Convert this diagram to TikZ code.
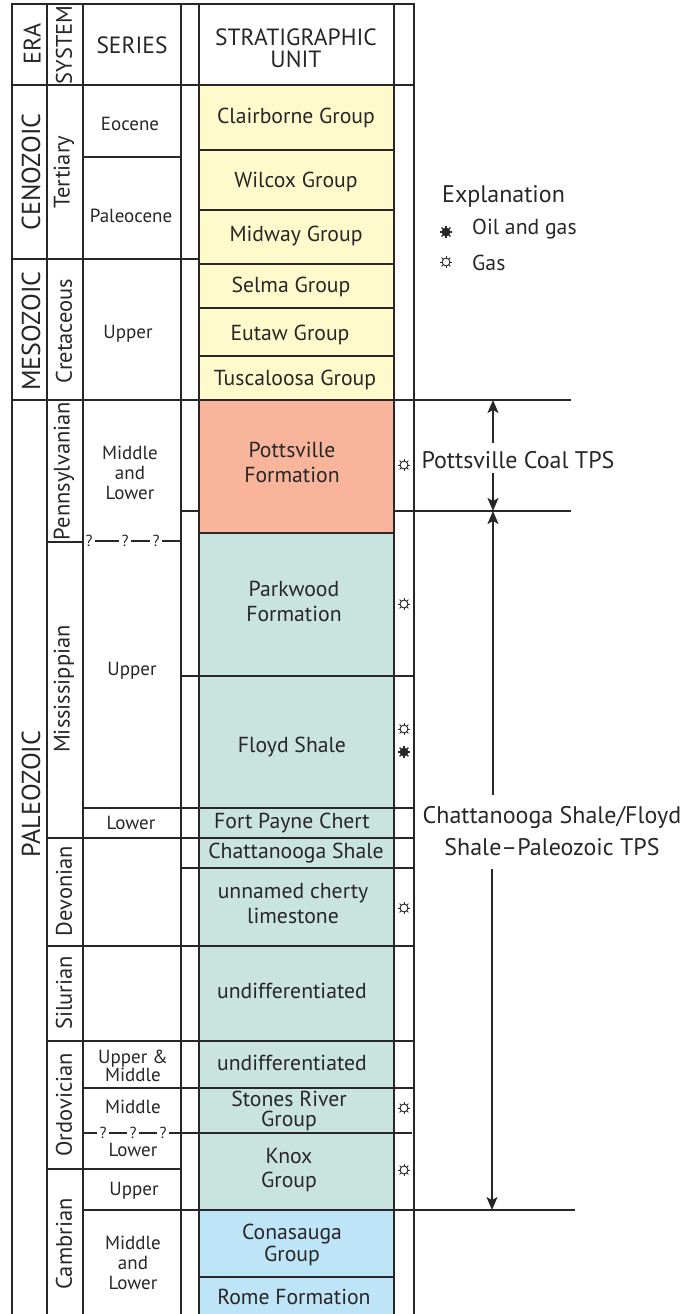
\documentclass[tikz,border=0pt]{standalone}
\usepackage{fontspec}
\setmainfont{PT Sans}
\usetikzlibrary{arrows.meta}

\definecolor{ink}{RGB}{40,38,38}
\definecolor{tertyellow}{RGB}{255,250,203}
\definecolor{pennsalmon}{RGB}{248,181,155}
\definecolor{paleoteal}{RGB}{201,227,223}
\definecolor{cambblue}{RGB}{190,229,247}

% gas and oil-and-gas marks
\newcommand{\gasmark}[1]{%
  \draw[ink, line width=0.9pt, fill=white] #1 circle (3.9);
  \foreach \a in {0,45,...,315} \draw[ink, line width=0.9pt] #1 ++(\a:3.9) -- ++(\a:2.3);
}
\newcommand{\oilmark}[1]{%
  \fill[ink] #1 circle (4.4);
  \foreach \a in {0,45,...,315} \draw[ink, line width=1.2pt] #1 ++(\a:3.7) -- ++(\a:2.5);
}

\begin{document}
\begin{tikzpicture}[x=1pt, y=-1pt,
    grid/.style={draw=ink, line width=1.2pt},
    frame/.style={draw=ink, line width=2pt},
    hdr/.style={font=\fontsize{23.5}{22}\selectfont, text=ink, align=center, inner sep=0pt},
    eraname/.style={rotate=90, font=\fontsize{26}{26}\selectfont, text=ink, inner sep=0pt},
    sysname/.style={rotate=90, font=\fontsize{22.5}{22}\selectfont, text=ink, inner sep=0pt},
    sername/.style={font=\fontsize{19}{20}\selectfont, text=ink, align=center, inner sep=0pt},
    unitname/.style={font=\fontsize{21.7}{25}\selectfont, text=ink, align=center, inner sep=0pt},
    qmark/.style={font=\fontsize{16}{16}\selectfont, text=ink, inner sep=2.5pt},
    tpsarrow/.style={draw=ink, line width=1.4pt, -{Stealth[length=13pt, width=11pt, inset=3pt]}},
    tpslabel/.style={font=\fontsize{24}{32}\selectfont, text=ink, align=center, inner sep=0pt}]
    \useasboundingbox (0,0) rectangle (684,1314);

    % Unit fills
    \fill[tertyellow] (199,85) rectangle (394,400);
    \fill[pennsalmon] (199,400) rectangle (394,533);
    \fill[paleoteal] (199,533) rectangle (394,1210);
    \fill[cambblue] (199,1210) rectangle (394,1314);

    % Column lines
    \foreach \x in {47,83,181,199,394} \draw[grid] (\x,4) -- (\x,1314);
    \draw[frame] (12,1314) -- (12,4) -- (414,4) -- (414,1314);

    % Row lines
    \draw[grid] (12,85) -- (414,85);
    \foreach \y in {150,210,264,308,356,533,1277} \draw[grid] (199,\y) -- (394,\y);
    \draw[grid] (83,157) -- (181,157);
    \draw[grid] (12,259) -- (199,259);
    \draw[grid] (12,400) -- (571,400);
    \draw[grid] (181,511) -- (199,511) (394,511) -- (571,511);
    \draw[grid] (47,542) -- (83,542);
    \foreach \y in {676,868} \draw[grid] (181,\y) -- (414,\y);
    \foreach \y in {808,1088} \draw[grid] (83,\y) -- (414,\y);
    \foreach \y in {838,946,1041} \draw[grid] (47,\y) -- (414,\y);
    \draw[grid] (47,1169) -- (181,1169);
    \draw[grid] (83,1210) -- (575,1210);

    % Uncertain series boundaries
    \node[qmark] (pq1) at (89,541) {?};
    \node[qmark] (pq2) at (125,541) {?};
    \node[qmark] (pq3) at (156,541) {?};
    \coordinate (pqend) at (181,541);
    \draw[grid] (pq1) -- (pq2) (pq2) -- (pq3) (pq3) -- (pqend);
    \coordinate (oqstart) at (83,1133);
    \node[qmark] (oq1) at (103,1133) {?};
    \node[qmark] (oq2) at (133,1133) {?};
    \node[qmark] (oq3) at (163,1133) {?};
    \coordinate (oqend) at (412,1133);
    \draw[grid] (oqstart) -- (oq1) (oq1) -- (oq2) (oq2) -- (oq3) (oq3) -- (oqend);

    % Headings
    \node[eraname, font=\fontsize{24}{24}\selectfont] (hera) at (32,44) {ERA};
    \node[sysname] (hsys) at (64,45) {SYSTEM};
    \node[hdr] (hser) at (132,45) {SERIES};
    \node[hdr] (hunit) at (296,48) {STRATIGRAPHIC\\UNIT};

    % Eras
    \node[eraname] (cenozoic) at (31,172) {CENOZOIC};
    \node[eraname] (mesozoic) at (31,331) {MESOZOIC};
    \node[eraname] (paleozoic) at (31,794) {PALEOZOIC};

    % Systems
    \node[sysname] (tertiary) at (64,172) {Tertiary};
    \node[sysname] (cretaceous) at (64,331) {Cretaceous};
    \node[sysname] (pennsylvanian) at (64,471) {Pennsylvanian};
    \node[sysname] (mississippian) at (64,689) {Mississippian};
    \node[sysname] (devonian) at (64,891) {Devonian};
    \node[sysname] (silurian) at (64,993) {Silurian};
    \node[sysname] (ordovician) at (64,1105) {Ordovician};
    \node[sysname] (cambrian) at (64,1244) {Cambrian};

    % Series
    \node[sername] (eocene) at (130,124) {Eocene};
    \node[sername] (paleocene) at (131,216) {Paleocene};
    \node[sername] (kupper) at (128,334) {Upper};
    \node[sername] (pmidlow) at (130,473) {Middle\\and\\Lower};
    \node[sername] (mupper) at (132,671) {Upper};
    \node[sername] (mlower) at (131,823) {Lower};
    \node[sername, font=\fontsize{19}{17}\selectfont] (oupmid) at (133,1066) {Upper \&\\Middle};
    \node[sername] (omiddle) at (133,1107) {Middle};
    \node[sername] (olower) at (133,1150) {Lower};
    \node[sername] (cupper) at (134,1191) {Upper};
    \node[sername] (cmidlow) at (133,1263) {Middle\\and\\Lower};

    % Stratigraphic units
    \node[unitname] (clairborne) at (296,118) {Clairborne Group};
    \node[unitname] (wilcox) at (296,182) {Wilcox Group};
    \node[unitname] (midway) at (296,236) {Midway Group};
    \node[unitname] (selma) at (291,287) {Selma Group};
    \node[unitname] (eutaw) at (290,335) {Eutaw Group};
    \node[unitname] (tuscaloosa) at (295,380) {Tuscaloosa Group};
    \node[unitname] (pottsville) at (292,462) {Pottsville\\Formation};
    \node[unitname] (parkwood) at (294,601) {Parkwood\\Formation};
    \node[unitname] (floyd) at (292,747) {Floyd Shale};
    \node[unitname] (fortpayne) at (292,823) {Fort Payne Chert};
    \node[unitname] (chattanooga) at (296,853) {Chattanooga Shale};
    \node[unitname] (cherty) at (293,904) {unnamed cherty\\limestone};
    \node[unitname] (silundiff) at (292,991) {undifferentiated};
    \node[unitname] (ordundiff) at (292,1063) {undifferentiated};
    \node[unitname, font=\fontsize{21.7}{19.5}\selectfont] (stonesriver) at (289,1111) {Stones River\\Group};
    \node[unitname, font=\fontsize{21.7}{24}\selectfont] (knox) at (289,1170) {Knox\\Group};
    \node[unitname, font=\fontsize{21.7}{22}\selectfont] (conasauga) at (292,1245) {Conasauga\\Group};
    \node[unitname] (rome) at (294,1297) {Rome Formation};

    % Occurrence marks
    \gasmark{(404,465)}
    \gasmark{(404,604)}
    \gasmark{(404,729)}
    \oilmark{(404,752)}
    \gasmark{(404,908)}
    \gasmark{(404,1108)}
    \gasmark{(404,1170)}

    % Explanation
    \node[tpslabel, anchor=base west] (expl) at (442,202) {Explanation};
    \oilmark{(446,232)}
    \node[unitname, anchor=west] (oilgas) at (472,229) {Oil and gas};
    \gasmark{(446,262)}
    \node[unitname, anchor=west] (gasonly) at (472,263) {Gas};

    % Petroleum systems
    \node[tpslabel] (pvtps) at (518,460) {Pottsville Coal TPS};
    \coordinate (pvtop) at (493,400);
    \coordinate (pvup) at (493,443);
    \coordinate (pvdown) at (493,473);
    \coordinate (pvbase) at (493,511);
    \draw[tpsarrow] (pvup) -- (pvtop);
    \draw[tpsarrow] (pvdown) -- (pvbase);

    \node[tpslabel] (cftps) at (552,831) {Chattanooga Shale/Floyd\\Shale--Paleozoic TPS};
    \coordinate (cftop) at (493,511);
    \coordinate (cfup) at (493,795);
    \coordinate (cfdown) at (492,869);
    \coordinate (cfbase) at (492,1210);
    \draw[tpsarrow] (cfup) -- (cftop);
    \draw[tpsarrow] (cfdown) -- (cfbase);
\end{tikzpicture}
\end{document}
